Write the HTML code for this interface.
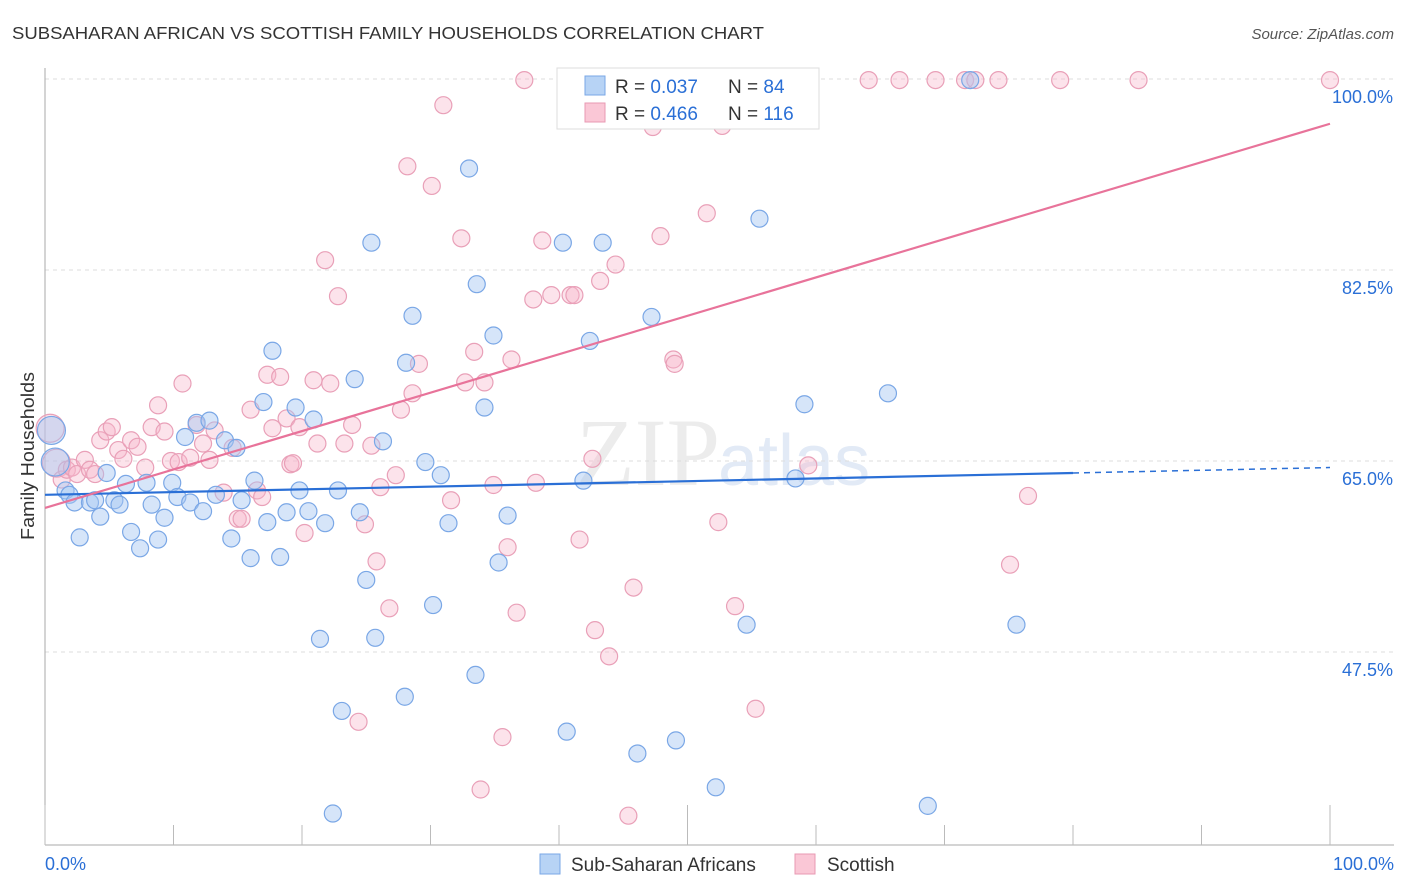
<!DOCTYPE html>
<html><head><meta charset="utf-8">
<style>
body{margin:0;background:#fff;font-family:"Liberation Sans",sans-serif;}
#wrap{position:relative;width:1406px;height:892px;overflow:hidden;}
</style></head>
<body>
<div id="wrap">
<svg id="svg" width="1406" height="892" xmlns="http://www.w3.org/2000/svg">
<text x="12" y="39" font-size="17.5" fill="#333" textLength="752" lengthAdjust="spacingAndGlyphs">SUBSAHARAN AFRICAN VS SCOTTISH FAMILY HOUSEHOLDS CORRELATION CHART</text>
<text x="1394" y="39" font-size="15" fill="#555" text-anchor="end" font-style="italic">Source: ZipAtlas.com</text>
<text x="720" y="485" font-size="96" fill="#ececec" text-anchor="end" font-family="Liberation Serif">ZIP</text>
<text x="718" y="485" font-size="72" fill="#e2eaf6">atlas</text>
<g id="grid"></g>
<g id="axes"></g>
<g id="pts"></g>
<g id="lines"></g>
<text transform="translate(34,456) rotate(-90)" font-size="18" fill="#333" text-anchor="middle" textLength="168" lengthAdjust="spacingAndGlyphs">Family Households</text>
<g>
<rect x="557" y="68" width="262" height="61" fill="#fff" stroke="#ddd"/>
<rect x="585" y="76" width="20" height="19" fill="#b7d3f5" stroke="#7aa7e6"/>
<rect x="585" y="103" width="20" height="19" fill="#fac7d6" stroke="#e89ab3"/>
<text x="615" y="93" font-size="19" fill="#333">R = <tspan fill="#2a6fd6">0.037</tspan></text>
<text x="728" y="93" font-size="19" fill="#333">N = <tspan fill="#2a6fd6"> 84</tspan></text>
<text x="615" y="120" font-size="19" fill="#333">R = <tspan fill="#2a6fd6">0.466</tspan></text>
<text x="728" y="120" font-size="19" fill="#333">N = <tspan fill="#2a6fd6">116</tspan></text>
</g>
<g>
<rect x="540" y="854" width="20" height="20" fill="#b7d3f5" stroke="#7aa7e6"/>
<text x="571" y="871" font-size="19" fill="#333">Sub-Saharan Africans</text>
<rect x="795" y="854" width="20" height="20" fill="#fac7d6" stroke="#e89ab3"/>
<text x="827" y="871" font-size="19" fill="#333">Scottish</text>
</g>
</svg>
</div>
<script>
const yTicks=[47.5,65,82.5,100];
const yTickLabels=["47.5%","65.0%","82.5%","100.0%"];
const xTickLabels=["0.0%","100.0%"];
const blueX=[0.5,0.8,1.6,1.9,2.3,2.7,3.5,3.9,4.3,4.8,5.4,5.8,6.3,6.7,7.4,7.9,8.3,8.8,9.3,9.9,10.3,10.9,11.3,11.8,12.3,12.8,13.3,14.0,14.5,14.9,15.3,16.0,16.3,17.0,17.3,17.7,18.3,18.8,19.5,19.8,20.5,20.9,21.4,21.8,22.8,23.1,22.4,24.1,24.5,25.0,25.4,25.7,26.3,28.0,28.1,28.6,29.6,30.2,30.8,31.4,33.0,33.5,33.6,34.2,34.9,35.3,36.0,40.3,40.6,41.9,42.4,43.4,46.1,47.2,49.1,52.2,54.6,55.6,58.4,59.1,65.6,68.7,72.0,75.6];
const blueY=[67.8,64.9,62.3,61.9,61.2,58.0,61.2,61.4,59.9,63.9,61.4,61.0,62.9,58.5,57.0,63.0,61.0,57.8,59.8,63.0,61.7,67.2,61.2,68.5,60.4,68.7,61.9,66.9,57.9,66.2,61.4,56.1,63.2,70.4,59.4,75.1,56.2,60.3,69.9,62.3,60.4,68.8,48.7,59.3,62.3,42.1,32.7,72.5,60.3,54.1,85.0,48.8,66.8,43.4,74.0,78.3,64.9,51.8,63.7,59.3,91.8,45.4,81.2,69.9,76.5,55.7,60.0,85.0,40.2,63.2,76.0,85.0,38.2,78.2,39.4,35.1,50.0,87.2,63.4,70.2,71.2,33.4,99.9,50.0];
const pinkX=[0.4,0.9,1.3,1.7,2.1,2.5,3.1,3.5,3.9,4.3,4.8,5.2,5.7,6.1,6.7,7.2,7.8,8.3,8.8,9.3,9.8,10.4,10.7,11.3,11.8,12.3,12.8,13.2,13.9,14.6,15.0,15.3,16.0,16.5,16.9,17.3,17.7,18.3,18.8,19.1,19.3,19.8,20.2,20.9,21.2,21.8,22.2,22.8,23.3,23.9,24.4,24.9,25.4,25.8,26.1,26.8,27.3,27.7,28.2,28.6,29.1,30.1,31.0,31.6,32.4,32.7,33.4,33.9,34.2,34.9,35.6,36.0,36.3,36.7,37.3,38.2,38.7,38.0,39.4,40.9,41.2,41.6,42.6,42.8,43.2,43.9,44.4,45.4,45.8,47.3,47.9,48.9,49.0,51.5,52.1,52.4,52.7,53.7,55.3,58.8,59.4,64.1,66.5,69.3,71.6,72.4,74.2,75.1,76.5,79.0,85.1,100];
const pinkY=[68.0,64.8,63.3,64.2,64.4,63.8,65.1,64.2,63.8,66.9,67.7,68.1,66.0,65.2,66.9,66.3,64.4,68.1,70.1,67.7,65.0,64.9,72.1,65.3,68.3,66.6,65.1,67.8,62.1,66.2,59.7,59.7,69.7,62.3,61.7,72.9,68.0,72.7,68.9,64.7,64.8,68.1,58.4,72.4,66.6,83.4,72.1,80.1,66.6,68.3,41.1,59.2,66.4,55.8,62.6,51.5,63.7,69.7,92.0,71.2,73.9,90.2,97.6,61.4,85.4,72.2,75.0,34.9,72.2,62.8,39.7,57.1,74.3,51.1,99.9,63.0,85.2,79.8,80.2,80.2,80.2,57.8,65.2,49.5,81.5,47.1,83.0,32.5,53.4,95.6,85.6,74.3,73.9,87.7,99.7,59.4,95.7,51.7,42.3,99.9,64.6,99.9,99.9,99.9,99.9,99.9,99.9,55.5,61.8,99.9,99.9,99.9];
const blueTrend=[61.9,63.9,64.4]; // at x=0, 80, 100
const pinkTrend=[60.7,95.9]; // at x=0, 100

const X0=45,X1=1330,YTOP=79,PX_PER=10.914;
const sx=v=>X0+(X1-X0)*v/100;
const sy=v=>YTOP+(100-v)*PX_PER;
const NS="http://www.w3.org/2000/svg";
function mk(t,a,p){const e=document.createElementNS(NS,t);for(const k in a)e.setAttribute(k,a[k]);p.appendChild(e);return e;}
const grid=document.getElementById('grid'),axes=document.getElementById('axes'),pts=document.getElementById('pts'),lines=document.getElementById('lines');
yTicks.forEach((v,i)=>{
 const l=mk('line',{x1:45,x2:1394,y1:sy(v),y2:sy(v),stroke:'#ddd','stroke-dasharray':'4,4'},grid);
 
 
 const t=mk('text',{x:1393,y:sy(v)+24,'font-size':18,fill:'#2a6fd6','text-anchor':'end'},axes);
 t.textContent=yTickLabels[i];
 
 
});
let a=mk('line',{x1:45,x2:45,y1:68,y2:845,stroke:'#aaa'},axes);


a=mk('line',{x1:45,x2:1394,y1:845,y2:845,stroke:'#aaa'},axes);


for(let i=0;i<=10;i++){
 const tk=mk('line',{x1:sx(i*10),x2:sx(i*10),y1:(i==0||i==5||i==10)?805:825,y2:845,stroke:'#bbb'},axes);
 
 
}
[[0,'start',45],[1,'end',1394]].forEach(([i,anc,x])=>{
 const t=mk('text',{x:x,y:870,'font-size':18,fill:'#2a6fd6','text-anchor':anc},axes);
 t.textContent=xTickLabels[i];
 
 
});
function dots(X,Y,fill,stroke,name){
 X.forEach((x,i)=>{
  const big=x<1;
  const c=mk('circle',{cx:sx(x),cy:sy(Y[i]),r:big?14:8.5,fill:fill,stroke:stroke,'stroke-width':1.2},pts);
  
  
 });
}
dots(pinkX,pinkY,'rgba(247,182,202,0.38)','#e9a0b8','scottish-point');
dots(blueX,blueY,'rgba(164,198,242,0.45)','#7aa7e6','sub-saharan-point');
let ln=mk('line',{x1:sx(0),y1:sy(blueTrend[0]),x2:sx(80),y2:sy(blueTrend[1]),stroke:'#2a6fd6','stroke-width':2.2},lines);


ln=mk('line',{x1:sx(80),y1:sy(blueTrend[1]),x2:sx(100),y2:sy(blueTrend[2]),stroke:'#2a6fd6','stroke-width':1.5,'stroke-dasharray':'6,5'},lines);


ln=mk('line',{x1:sx(0),y1:sy(pinkTrend[0]),x2:sx(100),y2:sy(pinkTrend[1]),stroke:'#e8739a','stroke-width':2.2},lines);


</script>
</body></html>
